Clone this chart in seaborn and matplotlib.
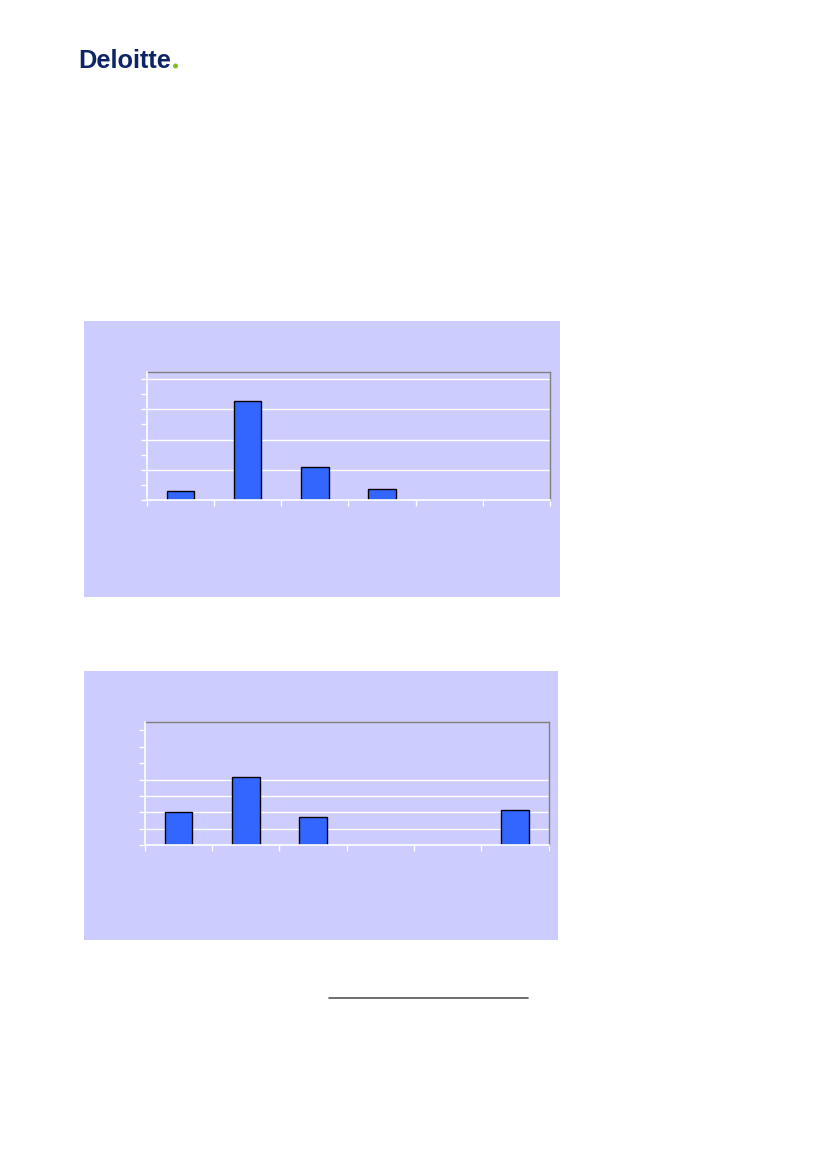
import numpy as np
import matplotlib
matplotlib.use('Agg')
import matplotlib.pyplot as plt
from matplotlib.patches import Rectangle, Ellipse
from matplotlib.lines import Line2D
import seaborn as sns

# data (tick units)
categories = ['c1', 'c2', 'c3', 'c4', 'c5', 'c6']
values_top = [0.56, 6.54, 2.15, 0.69, 0.0, 0.0]
values_bottom = [2.01, 4.14, 1.70, 0.0, 0.0, 2.13]

PANEL = '#CCCCFF'
BAR = '#3366FF'

sns.set_theme(style='white')
plt.rcParams['font.family'] = ['Liberation Sans', 'DejaVu Sans']

fig = plt.figure(figsize=(8.27, 11.69), dpi=100)
W, H = 827, 1169


def fig_rect(x0, y0, x1, y1):
    # pixel box (top-left origin) -> figure fraction [l, b, w, h]
    return [x0 / W, 1 - y1 / H, (x1 - x0) / W, (y1 - y0) / H]


# lavender chart panels (behind the axes)
for box in [(84, 321, 560, 597), (84, 671, 558, 940)]:
    l, b, w, h = fig_rect(*box)
    fig.patches.append(Rectangle((l, b), w, h, transform=fig.transFigure,
                                 facecolor=PANEL, edgecolor='none', zorder=-10))


def draw_chart(ax, vals, ymax, major, minor, grid_levels):
    df = {'cat': categories, 'val': vals}
    sns.barplot(data=df, x='cat', y='val', ax=ax, color=BAR, saturation=1,
                edgecolor='black', linewidth=1.0, width=0.41, zorder=3)
    for p in ax.patches:
        if p.get_height() == 0:
            p.set_linewidth(0)
    ax.set_facecolor(PANEL)
    ax.set_xlim(-0.5, len(categories) - 0.5)
    ax.set_ylim(0, ymax)
    ax.set_xticks(np.arange(-0.5, len(categories), 1))
    ax.set_xticklabels([])
    ax.set_yticks(major)
    ax.set_yticks(minor, minor=True)
    ax.set_yticklabels([])
    ax.set_xlabel('')
    ax.set_ylabel('')
    for g in grid_levels:
        ax.axhline(g, color='white', lw=1.0, zorder=1)
    ax.tick_params(axis='both', which='both', direction='out', length=4,
                   width=1, color='white', left=True, bottom=True)
    for s in ['top', 'right']:
        ax.spines[s].set_color('#808080')
        ax.spines[s].set_linewidth(1.0)
    for s in ['left', 'bottom']:
        ax.spines[s].set_color('white')
        ax.spines[s].set_linewidth(1.2)
        ax.spines[s].set_zorder(4)


ax1 = fig.add_axes(fig_rect(146.7, 372.3, 550.3, 499.7))
draw_chart(ax1, values_top, 8.47, [0, 2, 4, 6, 8], [1, 3, 5, 7], [2, 4, 6, 8])

ax2 = fig.add_axes(fig_rect(144.7, 722.3, 548.7, 845.3))
draw_chart(ax2, values_bottom, 7.49, [0, 1, 2, 3, 4, 5, 6, 7], [], [1, 2, 3, 4])

# logo
fig.text(78.5 / W, 1 - 68.5 / H, 'Deloitte', fontsize=18.3, fontweight='bold',
         color='#0F2466', ha='left', va='baseline')
fig.patches.append(Ellipse((175.5 / W, 1 - 66 / H), 5 / W, 5 / H,
                           transform=fig.transFigure, facecolor='#86BC25',
                           edgecolor='none'))

# footnote separator
fig.add_artist(Line2D([329 / W, 528 / W], [1 - 998 / H, 1 - 998 / H],
                      transform=fig.transFigure, color='#555555', lw=1.2))

fig.savefig('out.png', dpi=100)
